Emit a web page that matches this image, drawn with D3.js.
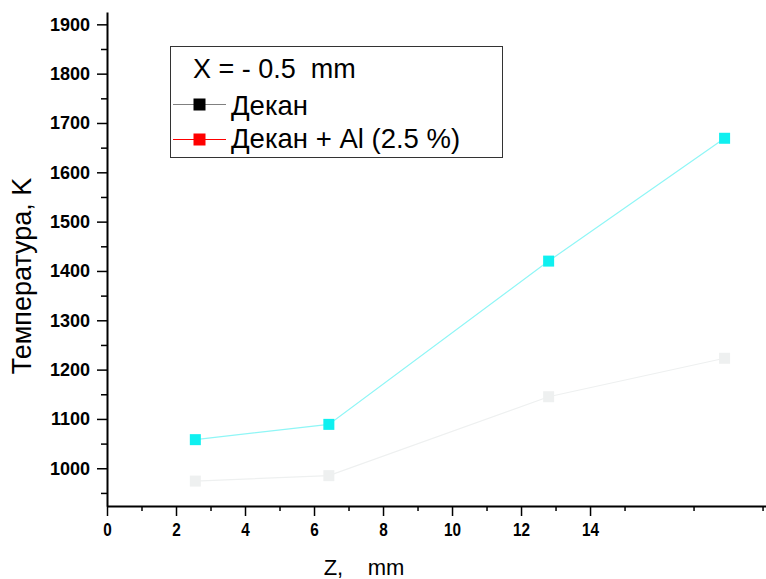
<!DOCTYPE html>
<html>
<head>
<meta charset="utf-8">
<script src="https://cdn.jsdelivr.net/npm/d3@7"></script>
<style>
  html, body { margin: 0; padding: 0; background: #ffffff; }
  svg { display: block; }
  text { font-family: "Liberation Sans", Arial, sans-serif; }
</style>
</head>
<body>
<svg id="chart" width="766" height="579"></svg>
<script>
// Distance along the nozzle axis, mm
const zValues = [2.56, 6.43, 12.8, 17.9];
// Temperature, K
const tempDecane = [974, 985, 1145, 1223];
const tempDecaneAl = [1058, 1089, 1420, 1669];

const xMajorTicks = [0, 2, 4, 6, 8, 10, 12, 14];
const xMinorTicks = [1, 3, 5, 7, 9, 11, 13, 15, 17, 19];
const yMajorTicks = [1000, 1100, 1200, 1300, 1400, 1500, 1600, 1700, 1800, 1900];
const yMinorTicks = [950, 1050, 1150, 1250, 1350, 1450, 1550, 1650, 1750, 1850];

const legendTitle = "X = - 0.5\u00a0\u00a0mm";
const seriesNames = ["Декан", "Декан + Al (2.5 %)"];
const xTitle = "Z,\u00a0\u00a0\u00a0\u00a0mm";
const yTitle = "Температура, K";

const svg = d3.select("#chart");

const x = d3.scaleLinear().domain([0, 19.1]).range([107, 766]);
const y = d3.scaleLinear().domain([923.5, 1925]).range([506, 12]);

// Minor ticks first, then major axes with labels
svg.append("g")
  .attr("transform", `translate(0,${y.range()[0]})`)
  .call(d3.axisBottom(x).tickValues(xMinorTicks).tickSize(5).tickSizeOuter(0).tickFormat(""))
  .call(g => g.select(".domain").remove())
  .call(g => g.selectAll("line").attr("stroke", "#000").attr("stroke-width", 1.5));

svg.append("g")
  .attr("transform", `translate(${x.range()[0]},0)`)
  .call(d3.axisLeft(y).tickValues(yMinorTicks).tickSize(6).tickSizeOuter(0).tickFormat(""))
  .call(g => g.select(".domain").remove())
  .call(g => g.selectAll("line").attr("stroke", "#000").attr("stroke-width", 1.5));

const xAxis = svg.append("g")
  .attr("transform", `translate(0,${y.range()[0]})`)
  .call(d3.axisBottom(x).tickValues(xMajorTicks).tickSize(10).tickSizeOuter(0).tickPadding(7).tickFormat(d3.format("d")));
xAxis.select(".domain").attr("stroke", "#000").attr("stroke-width", 2);
xAxis.selectAll("line").attr("stroke", "#000").attr("stroke-width", 1.5);
xAxis.selectAll("text")
  .attr("font-size", 18)
  .attr("font-weight", "bold")
  .attr("font-family", "'Liberation Sans', Arial, sans-serif")
  .attr("transform", "scale(0.85,1)")
  .attr("fill", "#000");

const yAxis = svg.append("g")
  .attr("transform", `translate(${x.range()[0]},0)`)
  .call(d3.axisLeft(y).tickValues(yMajorTicks).tickSize(10).tickSizeOuter(0).tickPadding(7).tickFormat(d3.format("d")));
yAxis.select(".domain").attr("stroke", "#000").attr("stroke-width", 2);
yAxis.selectAll("line").attr("stroke", "#000").attr("stroke-width", 1.5);
yAxis.selectAll("text")
  .attr("font-size", 18)
  .attr("font-weight", "bold")
  .attr("font-family", "'Liberation Sans', Arial, sans-serif")
  .attr("fill", "#000");

// Axis titles
svg.append("text")
  .attr("x", 364)
  .attr("y", 575)
  .attr("text-anchor", "middle")
  .style("font-size", "22px")
  .attr("fill", "#000")
  .text(xTitle);

svg.append("text")
  .attr("transform", "translate(31,276) rotate(-90)")
  .attr("text-anchor", "middle")
  .style("font-size", "27px")
  .attr("fill", "#000")
  .text(yTitle);

// Data series
const series = [
  { values: tempDecane, line: "#eef0f0", marker: "#eef0f0" },
  { values: tempDecaneAl, line: "#8ff6f6", marker: "#0ff0f0" }
];

const line = d3.line().x(d => x(d[0])).y(d => y(d[1]));
const msize = 11;

series.forEach(s => {
  const pts = zValues.map((z, i) => [z, s.values[i]]);
  svg.append("path")
    .datum(pts)
    .attr("d", line)
    .attr("fill", "none")
    .attr("stroke", s.line)
    .attr("stroke-width", 1.2);
  svg.append("g").selectAll("rect")
    .data(pts)
    .join("rect")
    .attr("x", d => x(d[0]) - msize / 2)
    .attr("y", d => y(d[1]) - msize / 2)
    .attr("width", msize)
    .attr("height", msize)
    .attr("fill", s.marker);
});

// Legend
const legend = svg.append("g");
legend.append("rect")
  .attr("x", 170.5).attr("y", 46.5)
  .attr("width", 332).attr("height", 111)
  .attr("fill", "#fff")
  .attr("stroke", "#333")
  .attr("stroke-width", 1);

legend.append("text")
  .attr("x", 193).attr("y", 78)
  .style("font-size", "27px")
  .attr("fill", "#000")
  .text(legendTitle);

const legendItems = [
  { name: seriesNames[0], line: "#808080", marker: "#000000", cy: 104.5, base: 115 },
  { name: seriesNames[1], line: "#ff0000", marker: "#ff0000", cy: 139.5, base: 148 }
];
legendItems.forEach(it => {
  legend.append("line")
    .attr("x1", 173).attr("x2", 226)
    .attr("y1", it.cy).attr("y2", it.cy)
    .attr("stroke", it.line).attr("stroke-width", 1);
  legend.append("rect")
    .attr("x", 193.5).attr("y", it.cy - 6)
    .attr("width", 12).attr("height", 12)
    .attr("fill", it.marker);
  legend.append("text")
    .attr("x", 231).attr("y", it.base)
    .style("font-size", "27.5px")
    .attr("fill", "#000")
    .text(it.name);
});
</script>
</body>
</html>
